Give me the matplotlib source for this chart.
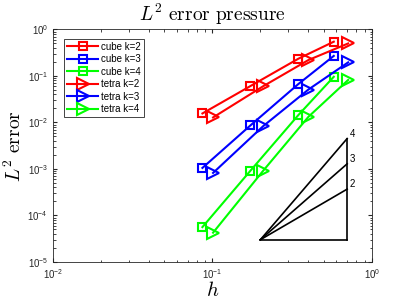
import matplotlib
matplotlib.use("Agg")
import matplotlib.pyplot as plt
import numpy as np

plt.rcParams["mathtext.fontset"] = "cm"
plt.rcParams["font.family"] = ["Liberation Sans", "DejaVu Sans"]

h_cube = [0.0866, 0.173, 0.346, 0.577]
h_tetra = [0.101, 0.208, 0.40, 0.71]

cube_k2 = [0.0156, 0.0605, 0.235, 0.546]
cube_k3 = [0.00105, 0.0086, 0.067, 0.27]
cube_k4 = [5.6e-5, 9.1e-4, 0.0144, 0.096]
tetra_k2 = [0.0128, 0.06, 0.22, 0.50]
tetra_k3 = [0.00082, 0.0083, 0.051, 0.196]
tetra_k4 = [4.25e-5, 9.1e-4, 0.0132, 0.082]

# slope triangle
tri_x = [0.2, 0.7]
tri_y0 = 3e-5
orders = [2, 3, 4]

fig = plt.figure(figsize=(4.1, 3.07), dpi=100)
ax = fig.add_axes([0.129, 0.147, 0.778, 0.757])

lw = 1.5
ax.loglog(h_cube, cube_k2, "-s", color="red", mfc="none", ms=6, lw=lw, mew=1.5, label="cube k=2")
ax.loglog(h_cube, cube_k3, "-s", color="blue", mfc="none", ms=6, lw=lw, mew=1.5, label="cube k=3")
ax.loglog(h_cube, cube_k4, "-s", color="#00ff00", mfc="none", ms=6, lw=lw, mew=1.5, label="cube k=4")
ax.loglog(h_tetra, tetra_k2, "->", color="red", mfc="none", ms=8, lw=lw, mew=1.5, label="tetra k=2")
ax.loglog(h_tetra, tetra_k3, "->", color="blue", mfc="none", ms=8, lw=lw, mew=1.5, label="tetra k=3")
ax.loglog(h_tetra, tetra_k4, "->", color="#00ff00", mfc="none", ms=8, lw=lw, mew=1.5, label="tetra k=4")

ratio = tri_x[1] / tri_x[0]
top = tri_y0 * ratio ** max(orders)
ax.plot(tri_x, [tri_y0, tri_y0], color="black", lw=1.2)
ax.plot([tri_x[1], tri_x[1]], [tri_y0, top], color="black", lw=1.2)
for p in orders:
    yend = tri_y0 * ratio ** p
    ax.plot(tri_x, [tri_y0, yend], color="black", lw=1.2)
    ax.text(tri_x[1] * 1.04, yend, str(p), fontsize=7, va="bottom", ha="left")

ax.set_xlim(1e-2, 1)
ax.set_ylim(1e-5, 1)
ax.tick_params(which="both", direction="in", top=True, right=True, labelsize=7, colors="#262626")
ax.tick_params(which="major", length=3)
ax.tick_params(which="minor", length=1.8)
for s in ax.spines.values():
    s.set_color("#262626")
    s.set_linewidth(0.6)

ax.set_title(r"$L^2\ \mathrm{error\ pressure}$", fontsize=14)
ax.set_xlabel("$h$", fontsize=15, labelpad=0)
ax.set_ylabel(r"$L^2\ \mathrm{error}$", fontsize=14, labelpad=2)

leg = ax.legend(loc="upper left", fontsize=7, fancybox=False, framealpha=1,
                edgecolor="#262626", handlelength=3.2, borderpad=0.3,
                labelspacing=0.25, handletextpad=0.3, bbox_to_anchor=(0.02, 0.98))
leg.get_frame().set_linewidth(0.6)

fig.savefig("out.png", dpi=100)
